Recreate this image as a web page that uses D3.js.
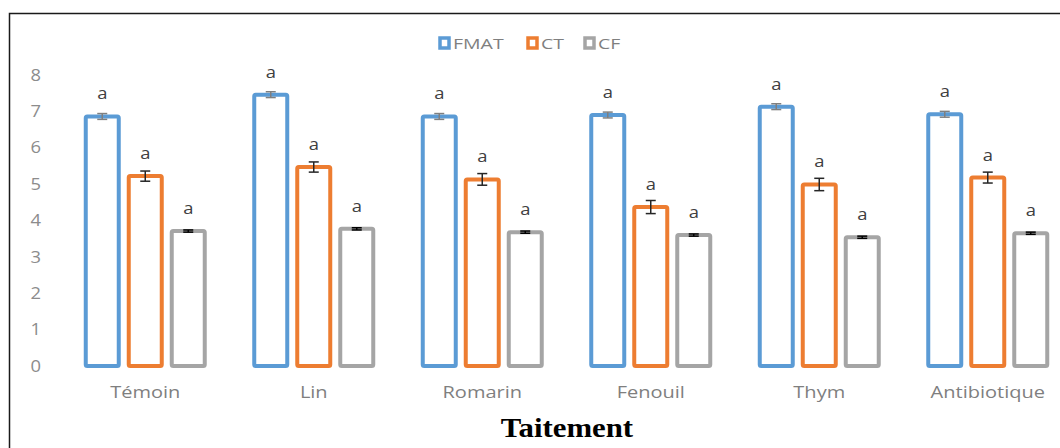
<!DOCTYPE html>
<html>
<head>
<meta charset="utf-8">
<script src="https://cdn.jsdelivr.net/npm/d3@7"></script>
<style>
  body { margin: 0; background: #fff; }
  svg { display: block; }
</style>
</head>
<body>
<script>
// data
var categories = ["Témoin", "Lin", "Romarin", "Fenouil", "Thym", "Antibiotique"];
var series = ["FMAT", "CT", "CF"];
var fmat = [6.86, 7.46, 6.86, 6.90, 7.13, 6.92];
var ct   = [5.22, 5.47, 5.13, 4.37, 4.99, 5.18];
var cf   = [3.71, 3.77, 3.68, 3.60, 3.54, 3.65];
var fmatErr = [0.08, 0.08, 0.08, 0.08, 0.08, 0.08];
var ctErr   = [0.14, 0.14, 0.16, 0.18, 0.17, 0.15];
var cfErr   = [0.03, 0.03, 0.03, 0.03, 0.03, 0.03];
var letters = ["a", "a", "a", "a", "a", "a"];
var yTicks = [0, 1, 2, 3, 4, 5, 6, 7, 8];

var colors = {FMAT: "#5b9bd5", CT: "#ed7d31", CF: "#a5a5a5"};
var errColors = {FMAT: "#7f7f7f", CT: "#262626", CF: "#000"};

// the original screenshot is a bit stretched sideways
var stretch = "scale(1.25,1)";

var width = 1060, height = 448;

var svg = d3.select("body")
    .append("svg")
        .attr("width", width)
        .attr("height", height);

// outer frame of the chart
svg.append("rect")
    .attr("x", 9.5)
    .attr("y", 13.5)
    .attr("width", 1100)
    .attr("height", 600)
    .style("fill", "none")
    .style("stroke", "#1a1a1a")
    .style("stroke-width", 1.5);

var x0 = d3.scaleBand()
    .domain(categories)
    .range([61, 1072])
    .paddingInner(0);

var x1 = d3.scaleBand()
    .domain(series)
    .range([-59.5, 59.5])
    .paddingInner(10 / 43)
    .paddingOuter(0);

var y = d3.scaleLinear()
    .domain([0, 8])
    .range([366, 75]);

// y axis, labels only
var yAxis = svg.append("g")
    .attr("transform", "translate(48,0)")
    .call(d3.axisLeft(y).tickValues(yTicks).tickSize(0).tickPadding(6));
yAxis.select(".domain").remove();
yAxis.selectAll("text")
    .attr("transform", "scale(1.15,1)")
    .style("font-family", "'Open Sans'")
    .style("font-size", "16px")
    .style("fill", "#8c8c8c");

// x axis, labels only
var xAxis = svg.append("g")
    .attr("transform", "translate(0,384)")
    .call(d3.axisBottom(x0).tickSize(0).tickPadding(3));
xAxis.select(".domain").remove();
xAxis.selectAll("text")
    .attr("transform", stretch)
    .style("font-family", "'Open Sans'")
    .style("font-size", "16px")
    .style("fill", "#7f7f7f");

var rows = categories.map(function(c, i) {
    return {
        cat: c,
        vals: [
            {s: "FMAT", v: fmat[i], e: fmatErr[i], l: letters[i]},
            {s: "CT", v: ct[i], e: ctErr[i], l: letters[i]},
            {s: "CF", v: cf[i], e: cfErr[i], l: letters[i]}
        ]
    };
});

var groups = svg.selectAll(".grp")
    .data(rows)
    .enter().append("g")
        .attr("class", "grp")
        .attr("transform", function(d) {
            return "translate(" + (x0(d.cat) + x0.bandwidth() / 2) + ",0)";
        });

var bars = groups.selectAll(".bar")
    .data(function(d) { return d.vals; })
    .enter().append("g")
        .attr("class", "bar");

bars.append("rect")
    .attr("x", function(d) { return x1(d.s); })
    .attr("y", function(d) { return y(d.v); })
    .attr("width", x1.bandwidth())
    .attr("height", function(d) { return y(0) - y(d.v); })
    .attr("rx", 1.5)
    .style("fill", "#fff")
    .style("stroke", function(d) { return colors[d.s]; })
    .style("stroke-width", 4);

// error bars
bars.each(function(d) {
    var g = d3.select(this);
    var cx = x1(d.s) + x1.bandwidth() / 2;
    var c = errColors[d.s];
    g.append("line")
        .attr("x1", cx).attr("x2", cx)
        .attr("y1", y(d.v + d.e)).attr("y2", y(d.v - d.e))
        .style("stroke", c).style("stroke-width", 1.5);
    [d.v + d.e, d.v - d.e].forEach(function(v) {
        g.append("line")
            .attr("x1", cx - 5).attr("x2", cx + 5)
            .attr("y1", y(v)).attr("y2", y(v))
            .style("stroke", c).style("stroke-width", 1.5);
    });
});

// significance letters
bars.append("text")
    .text(function(d) { return d.l; })
    .attr("transform", function(d) {
        return "translate(" + (x1(d.s) + x1.bandwidth() / 2) + "," + (y(d.v) - 17) + ") scale(1.15,1)";
    })
    .attr("text-anchor", "middle")
    .style("font-family", "'Open Sans'")
    .style("font-size", "16px")
    .style("fill", "#404040");

// legend
var legendX = [438, 526, 583];
var legend = svg.selectAll(".leg")
    .data(series)
    .enter().append("g")
        .attr("class", "leg")
        .attr("transform", function(d, i) { return "translate(" + legendX[i] + ",38)"; });

legend.append("rect")
    .attr("x", 2).attr("y", 0)
    .attr("width", 9).attr("height", 10)
    .style("fill", "#fff")
    .style("stroke", function(d) { return colors[d]; })
    .style("stroke-width", 3.5);

legend.append("text")
    .text(function(d) { return d; })
    .attr("transform", "translate(15,11) scale(1.3,1)")
    .style("font-family", "'Open Sans'")
    .style("font-size", "15px")
    .style("fill", "#7f7f7f");

// axis title
svg.append("text")
    .text("Taitement")
    .attr("transform", "translate(567,437) scale(1.1,1)")
    .attr("text-anchor", "middle")
    .style("font-family", "'Liberation Serif'")
    .style("font-weight", "bold")
    .style("font-size", "28px")
    .style("fill", "#000");
</script>
</body>
</html>
